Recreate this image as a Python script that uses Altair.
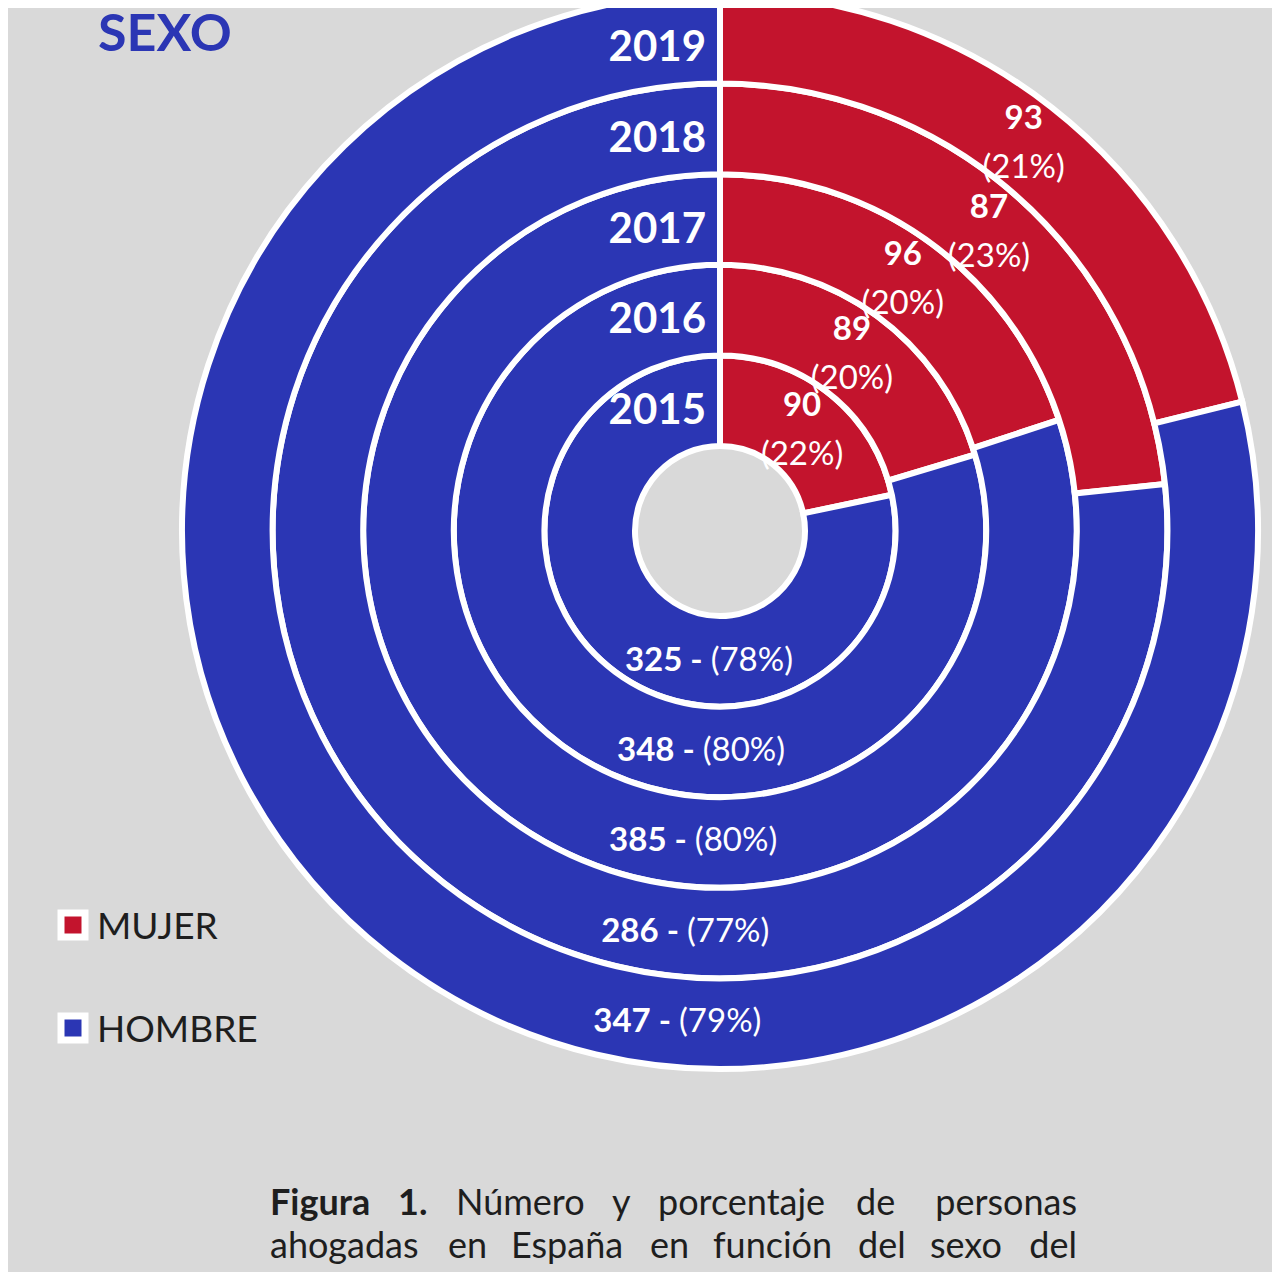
import math
import altair as alt
import pandas as pd

# ---------------- data ----------------
years = [2015, 2016, 2017, 2018, 2019]
mujer = [90, 89, 96, 87, 93]
hombre = [325, 348, 385, 286, 347]
pct_mujer = [22, 20, 20, 23, 21]
pct_hombre = [78, 80, 80, 77, 79]
hombre_labels = ["325 -", "348 -", "385 -", "286  -", "347 -"]
sexos = ["MUJER", "HOMBRE"]

# ---------------- style ----------------
FONT = "Lato"
RED = "#C3142D"
BLUE = "#2B36B4"
BG = "#D9D9D9"
TXT = "#1e1e1e"
CX, CY = 712, 523
HOMBRE_LABEL_ANGLE = 185 / 360

rows = []
for i, yr in enumerate(years):
    total = mujer[i] + hombre[i]
    fm = mujer[i] / total
    rows.append(dict(year=str(yr), sexo="MUJER", value=mujer[i], ring=i,
                     start=0.0, end=fm, lab_theta=fm / 2,
                     num_text=str(mujer[i]), pct_text=f"({pct_mujer[i]}%)"))
    rows.append(dict(year=str(yr), sexo="HOMBRE", value=hombre[i], ring=i,
                     start=fm, end=1.0, lab_theta=HOMBRE_LABEL_ANGLE,
                     num_text=hombre_labels[i], pct_text=f"({pct_hombre[i]}%)"))
df = pd.DataFrame(rows)
df["ring_out"] = df["ring"] + 1
df["ring_mid"] = df["ring"] + 0.5
df["zero"] = 0.0

df_m = df[df.sexo == "MUJER"]
df_h = df[df.sexo == "HOMBRE"]

theta_scale = alt.Scale(domain=[0, 1], range=[0, 2 * math.pi])
r_scale = alt.Scale(type="linear", domain=[0, 5], range=[85, 538], zero=False)
color_scale = alt.Scale(domain=sexos, range=[RED, BLUE])

pos = dict(x=alt.value(CX), y=alt.value(CY))

arcs = alt.Chart(df).mark_arc(stroke="white", strokeWidth=6).encode(
    theta=alt.Theta("start:Q", scale=theta_scale, stack=False),
    theta2="end:Q",
    radius=alt.Radius("ring:Q", scale=r_scale),
    radius2="ring_out:Q",
    color=alt.Color("sexo:N", scale=color_scale, legend=None),
    **pos,
)

year_text = alt.Chart(df_m).mark_text(
    align="right", baseline="middle", dx=-14, dy=10, fontSize=42,
    fontWeight="bold", font=FONT, color="white"
).encode(
    theta=alt.Theta("zero:Q", scale=theta_scale, stack=False),
    radius=alt.Radius("ring_mid:Q", scale=r_scale),
    text="year:N",
    **pos,
)

red_num = alt.Chart(df_m).mark_text(
    align="center", baseline="middle", dy=-24, fontSize=33,
    fontWeight="bold", font=FONT, color="white"
).encode(
    theta=alt.Theta("lab_theta:Q", scale=theta_scale, stack=False),
    radius=alt.Radius("ring_mid:Q", scale=r_scale),
    text="num_text:N",
    **pos,
)
red_pct = alt.Chart(df_m).mark_text(
    align="center", baseline="middle", dy=25, fontSize=33,
    font=FONT, color="white"
).encode(
    theta=alt.Theta("lab_theta:Q", scale=theta_scale, stack=False),
    radius=alt.Radius("ring_mid:Q", scale=r_scale),
    text="pct_text:N",
    **pos,
)

blue_num = alt.Chart(df_h).mark_text(
    align="right", baseline="middle", dx=-6, fontSize=33,
    fontWeight="bold", font=FONT, color="white"
).encode(
    theta=alt.Theta("lab_theta:Q", scale=theta_scale, stack=False),
    radius=alt.Radius("ring_mid:Q", scale=r_scale),
    text="num_text:N",
    **pos,
)
blue_pct = alt.Chart(df_h).mark_text(
    align="left", baseline="middle", dx=2, fontSize=33,
    font=FONT, color="white"
).encode(
    theta=alt.Theta("lab_theta:Q", scale=theta_scale, stack=False),
    radius=alt.Radius("ring_mid:Q", scale=r_scale),
    text="pct_text:N",
    **pos,
)

# ---------------- legend ----------------
leg_df = pd.DataFrame({"sexo": sexos})
leg_y = alt.Y("sexo:N", scale=alt.Scale(type="point", domain=sexos, range=[917, 1020], padding=0), axis=None)
legend_sq = alt.Chart(leg_df).mark_point(
    shape="square", filled=True, size=576, stroke="white", strokeWidth=7, opacity=1
).encode(
    x=alt.value(65),
    y=leg_y,
    color=alt.Color("sexo:N", scale=color_scale, legend=None),
)
legend_txt = alt.Chart(leg_df).mark_text(
    align="left", baseline="alphabetic", dy=14, fontSize=37, font=FONT, color=TXT
).encode(
    x=alt.value(89),
    y=leg_y,
    text="sexo:N",
)

# ---------------- annotations ----------------
one = pd.DataFrame({"k": [0]})


def note(text, x, y, size, weight="normal", color=TXT, align="left"):
    return alt.Chart(one).mark_text(
        text=text, align=align, baseline="alphabetic", font=FONT,
        fontSize=size, fontWeight=weight, color=color
    ).encode(x=alt.value(x), y=alt.value(y))


title = note("SEXO", 90, 43, 52, weight="bold", color=BLUE)

L1, L2 = 1207, 1250
caption_words = [
    ("Figura", 262, L1, "bold", "left"),
    ("1.", 390, L1, "bold", "left"),
    ("Número", 448, L1, "normal", "left"),
    ("y", 604, L1, "normal", "left"),
    ("porcentaje", 650, L1, "normal", "left"),
    ("de", 848, L1, "normal", "left"),
    ("personas", 1069, L1, "normal", "right"),
    ("ahogadas", 262, L2, "normal", "left"),
    ("en", 440, L2, "normal", "left"),
    ("España", 503, L2, "normal", "left"),
    ("en", 642, L2, "normal", "left"),
    ("función", 705, L2, "normal", "left"),
    ("del", 850, L2, "normal", "left"),
    ("sexo", 922, L2, "normal", "left"),
    ("del", 1069, L2, "normal", "right"),
]
caption = [note(w, x, y, 36, weight=wt, align=al) for (w, x, y, wt, al) in caption_words]

chart = alt.layer(
    arcs, year_text, red_num, red_pct, blue_num, blue_pct,
    legend_sq, legend_txt, title, *caption
).properties(
    width=1264, height=1264,
    autosize=alt.AutoSizeParams(type="none"),
    padding=0,
    background=BG,
).configure_view(stroke=None)

chart.save("out.html", embed_options={"renderer": "svg", "actions": False})
